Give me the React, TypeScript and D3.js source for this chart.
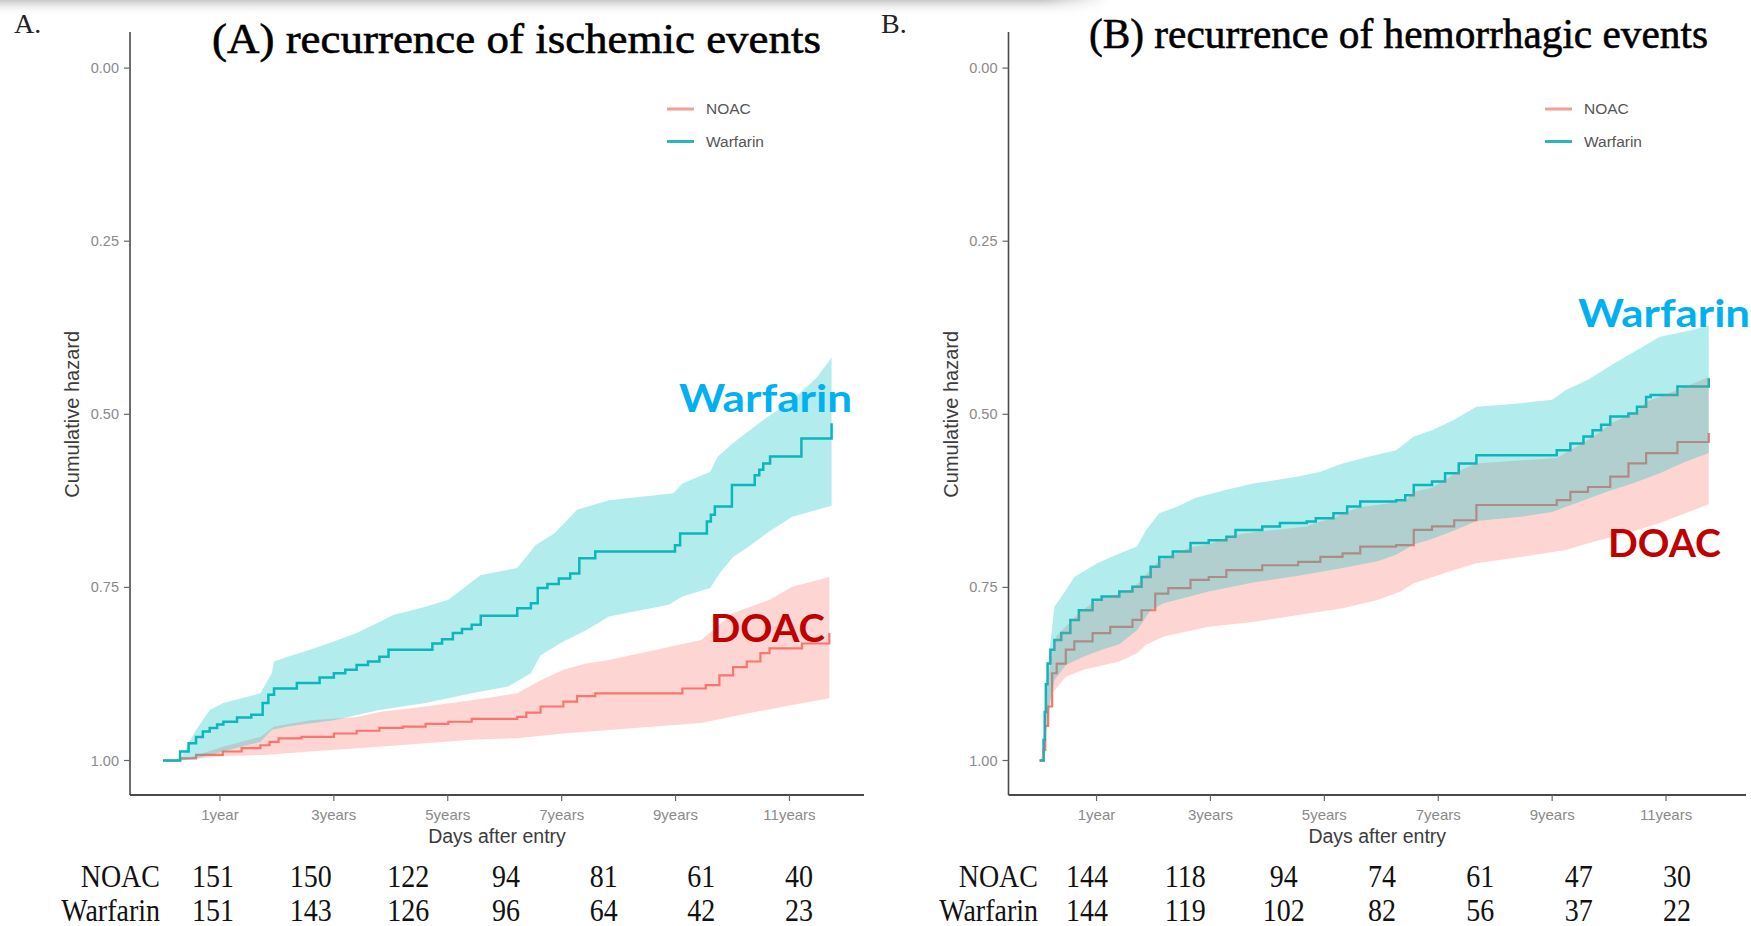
import React from "react";
import * as d3 from "d3";

type P = [number, number];

// ---------- Panel A: recurrence of ischemic events ----------
const ischWarfarinLine: P[] = [
  [0, 1.0], [0.3, 0.987], [0.45, 0.975], [0.58, 0.966], [0.7, 0.958], [0.82, 0.953], [0.95, 0.948],
  [1.06, 0.944], [1.3, 0.938], [1.55, 0.934], [1.75, 0.917], [1.85, 0.905], [1.95, 0.896], [2.35, 0.888],
  [2.75, 0.88], [3.0, 0.874], [3.2, 0.869], [3.4, 0.862], [3.6, 0.857], [3.8, 0.85], [3.96, 0.84],
  [4.73, 0.831], [4.9, 0.825], [5.09, 0.816], [5.25, 0.81], [5.42, 0.804], [5.58, 0.791], [6.22, 0.78],
  [6.46, 0.773], [6.58, 0.751], [6.75, 0.745], [6.95, 0.737], [7.15, 0.73], [7.31, 0.708], [7.59, 0.698],
  [8.99, 0.689], [9.08, 0.672], [9.55, 0.655], [9.62, 0.645], [9.69, 0.633], [9.99, 0.602], [10.39, 0.588],
  [10.47, 0.58], [10.54, 0.571], [10.66, 0.561], [11.21, 0.535], [11.74, 0.513],
];
const ischWarfarinUpper: P[] = [
  [0, 1.0], [0.3, 1.0], [0.45, 0.975], [0.58, 0.956], [0.82, 0.927], [1.06, 0.917], [1.38, 0.91],
  [1.71, 0.903], [1.91, 0.874], [1.95, 0.857], [2.19, 0.85], [2.58, 0.84], [3.0, 0.828], [3.4, 0.816],
  [3.8, 0.8], [4.04, 0.79], [4.61, 0.778], [5.01, 0.768], [5.58, 0.732], [6.22, 0.722], [6.54, 0.689],
  [6.87, 0.672], [7.27, 0.638], [7.83, 0.624], [8.96, 0.614], [9.12, 0.6], [9.61, 0.583], [9.73, 0.562],
  [10.0, 0.542], [10.48, 0.512], [11.07, 0.478], [11.48, 0.447], [11.74, 0.418],
];
const ischWarfarinLower: P[] = [
  [0, 1.0], [0.3, 1.0], [0.58, 0.997], [1.05, 0.987], [1.38, 0.98], [1.71, 0.973], [1.91, 0.956],
  [2.19, 0.951], [3.0, 0.942], [3.8, 0.927], [4.61, 0.917], [5.42, 0.903], [6.06, 0.893], [6.46, 0.874],
  [6.63, 0.848], [7.03, 0.828], [7.43, 0.812], [7.83, 0.792], [8.88, 0.775], [9.12, 0.763], [9.61, 0.751],
  [9.77, 0.73], [10.01, 0.706], [10.25, 0.693], [10.65, 0.669], [11.05, 0.648], [11.74, 0.632],
];
const ischNoacLine: P[] = [
  [0, 1.0], [0.3, 0.997], [0.58, 0.992], [1.05, 0.987], [1.38, 0.982], [1.71, 0.978], [1.87, 0.973],
  [2.03, 0.968], [2.43, 0.966], [3.0, 0.961], [3.4, 0.957], [3.8, 0.953], [4.21, 0.951], [4.61, 0.947],
  [5.01, 0.944], [5.42, 0.94], [6.22, 0.937], [6.38, 0.931], [6.63, 0.922], [7.03, 0.915], [7.27, 0.907],
  [7.59, 0.903], [9.12, 0.896], [9.53, 0.891], [9.77, 0.877], [10.01, 0.865], [10.25, 0.857],
  [10.49, 0.845], [10.65, 0.838], [11.22, 0.831], [11.7, 0.816],
];
const ischNoacUpper: P[] = [
  [0, 1.0], [0.3, 1.0], [1.05, 0.98], [1.71, 0.966], [1.95, 0.951], [2.58, 0.942], [3.4, 0.937],
  [3.8, 0.93], [4.61, 0.922], [5.42, 0.913], [6.22, 0.903], [6.63, 0.884], [7.03, 0.869], [7.43, 0.86],
  [7.83, 0.855], [8.88, 0.836], [9.45, 0.826], [10.01, 0.787], [10.65, 0.768], [11.05, 0.749], [11.7, 0.735],
];
const ischNoacLower: P[] = [
  [0, 1.0], [0.3, 1.0], [1.05, 0.994], [1.79, 0.992], [2.58, 0.987], [3.8, 0.98], [4.61, 0.975],
  [5.42, 0.97], [6.22, 0.968], [7.03, 0.961], [7.83, 0.956], [8.64, 0.951], [9.45, 0.946], [9.85, 0.939],
  [10.25, 0.932], [11.05, 0.92], [11.7, 0.91],
];

// ---------- Panel B: recurrence of hemorrhagic events ----------
const hemWarfarinLine: P[] = [
  [0, 1.0], [0.07, 0.97], [0.09, 0.93], [0.11, 0.89], [0.14, 0.86], [0.19, 0.84], [0.26, 0.826],
  [0.38, 0.816], [0.54, 0.797], [0.69, 0.783], [0.93, 0.768], [1.09, 0.763], [1.4, 0.756], [1.63, 0.749],
  [1.79, 0.735], [1.95, 0.72], [2.1, 0.706], [2.34, 0.698], [2.65, 0.686], [2.97, 0.682], [3.28, 0.677],
  [3.44, 0.667], [3.91, 0.662], [4.22, 0.657], [4.69, 0.655], [4.85, 0.65], [5.16, 0.643], [5.4, 0.633],
  [5.63, 0.626], [6.26, 0.624], [6.42, 0.617], [6.57, 0.602], [6.89, 0.597], [7.12, 0.585], [7.36, 0.571],
  [7.67, 0.559], [9.08, 0.552], [9.32, 0.542], [9.55, 0.532], [9.71, 0.523], [9.86, 0.515], [10.02, 0.503],
  [10.34, 0.499], [10.49, 0.489], [10.65, 0.475], [10.73, 0.472], [11.2, 0.46], [11.75, 0.448],
];
const hemWarfarinUpper: P[] = [
  [0, 1.0], [0.07, 1.0], [0.1, 0.93], [0.15, 0.86], [0.26, 0.778], [0.46, 0.754], [0.61, 0.735],
  [1.01, 0.715], [1.4, 0.701], [1.71, 0.691], [1.87, 0.667], [2.1, 0.643], [2.42, 0.633], [2.73, 0.621],
  [3.28, 0.609], [3.75, 0.6], [4.54, 0.59], [4.93, 0.583], [5.32, 0.571], [5.79, 0.561], [6.26, 0.552],
  [6.57, 0.532], [6.89, 0.523], [7.28, 0.508], [7.67, 0.489], [8.45, 0.484], [9.0, 0.479], [9.24, 0.465],
  [9.63, 0.45], [10.02, 0.43], [10.6, 0.402], [10.89, 0.388], [11.48, 0.378], [11.75, 0.371],
];
const hemWarfarinLower: P[] = [
  [0, 1.0], [0.07, 1.0], [0.1, 0.965], [0.15, 0.93], [0.26, 0.884], [0.46, 0.862], [0.77, 0.85],
  [1.09, 0.84], [1.4, 0.832], [1.71, 0.812], [1.95, 0.783], [2.18, 0.773], [2.97, 0.756], [3.75, 0.743],
  [4.54, 0.733], [5.32, 0.722], [5.95, 0.712], [6.26, 0.703], [6.57, 0.688], [6.89, 0.68], [7.28, 0.668],
  [7.67, 0.654], [8.45, 0.648], [9.0, 0.641], [9.63, 0.622], [10.02, 0.61], [10.41, 0.6], [10.89, 0.585],
  [11.3, 0.57], [11.75, 0.556],
];
const hemNoacLine: P[] = [
  [0, 1.0], [0.07, 0.985], [0.1, 0.95], [0.15, 0.922], [0.22, 0.874], [0.3, 0.86], [0.46, 0.84],
  [0.61, 0.828], [0.93, 0.816], [1.24, 0.807], [1.63, 0.797], [1.79, 0.783], [2.03, 0.759], [2.26, 0.751],
  [2.65, 0.739], [2.97, 0.735], [3.28, 0.725], [3.91, 0.718], [4.54, 0.713], [4.93, 0.706], [5.32, 0.701],
  [5.63, 0.691], [6.26, 0.689], [6.57, 0.667], [6.89, 0.662], [7.28, 0.653], [7.67, 0.631], [9.08, 0.624],
  [9.32, 0.612], [9.63, 0.605], [10.02, 0.59], [10.34, 0.571], [10.65, 0.556], [11.2, 0.54], [11.75, 0.527],
];
const hemNoacUpper: P[] = [
  [0, 1.0], [0.07, 0.99], [0.1, 0.95], [0.13, 0.9], [0.2, 0.85], [0.3, 0.82], [0.54, 0.8], [0.69, 0.787],
  [0.93, 0.772], [1.09, 0.766], [1.4, 0.759], [1.63, 0.752], [1.79, 0.739], [1.95, 0.724], [2.1, 0.711],
  [2.34, 0.703], [2.65, 0.692], [2.97, 0.688], [3.44, 0.674], [3.91, 0.669], [4.69, 0.662], [4.85, 0.657],
  [5.16, 0.65], [5.4, 0.641], [5.63, 0.634], [6.42, 0.626], [6.57, 0.612], [6.89, 0.606], [7.12, 0.595],
  [7.36, 0.582], [7.67, 0.571], [9.08, 0.563], [9.32, 0.552], [9.55, 0.541], [9.86, 0.525], [10.02, 0.513],
  [10.49, 0.497], [10.65, 0.482], [11.2, 0.465], [11.75, 0.446],
];
const hemNoacLower: P[] = [
  [0, 1.0], [0.07, 1.0], [0.1, 0.965], [0.15, 0.946], [0.22, 0.903], [0.46, 0.879], [0.77, 0.869],
  [1.4, 0.857], [1.71, 0.845], [1.87, 0.833], [2.18, 0.821], [2.97, 0.807], [3.75, 0.8], [4.54, 0.79],
  [5.32, 0.78], [5.95, 0.768], [6.34, 0.756], [6.57, 0.744], [7.28, 0.725], [7.67, 0.715], [8.45, 0.706],
  [9.24, 0.696], [9.72, 0.684], [10.31, 0.672], [10.89, 0.657], [11.75, 0.63],
];

// ---------- Axis ticks & risk tables ----------
const yTicks = [0, 0.25, 0.5, 0.75, 1];
const xTickYears = [1, 3, 5, 7, 9, 11];
const xTickLabels = ["1year", "3years", "5years", "7years", "9years", "11years"];
const groupNames = ["NOAC", "Warfarin"];
const ischRiskNoac = [151, 150, 122, 94, 81, 61, 40];
const ischRiskWarfarin = [151, 143, 126, 96, 64, 42, 23];
const hemRiskNoac = [144, 118, 94, 74, 61, 47, 30];
const hemRiskWarfarin = [144, 119, 102, 82, 56, 37, 22];

const TEAL = "#00bfc4";
const RED = "#f8766d";
const SANS = "'Liberation Sans', Arial, sans-serif";
const SERIF = "'Liberation Serif', 'Times New Roman', serif";
const CALLOUT = "Lato, 'Open Sans', sans-serif";

type PanelProps = {
  letter: string;
  letterX: number;
  title: string;
  titleX: number;
  titleY: number;
  titleW: number;
  axisX: number;
  axisEnd: number;
  x0: number;
  warLine: P[];
  warUp: P[];
  warLo: P[];
  noacLine: P[];
  noacUp: P[];
  noacLo: P[];
  riskNoac: number[];
  riskWar: number[];
  riskLabelX: number;
  riskRange: [number, number];
  legendX: number;
  warText: { x: number; y: number; w: number };
  doacText: { x: number; y: number; w: number };
};

function Panel(p: PanelProps) {
  const yearPx = 56.95;
  const x = d3.scaleLinear().domain([0, 12]).range([p.x0, p.x0 + 12 * yearPx]);
  const y = d3.scaleLinear().domain([0, 1]).range([68.1, 760.5]);
  const stepLine = d3
    .line<P>()
    .x((d) => x(d[0]))
    .y((d) => y(d[1]))
    .curve(d3.curveStepAfter);
  const edge = d3
    .line<P>()
    .x((d) => x(d[0]))
    .y((d) => y(d[1]))
    .curve(d3.curveLinear);
  const ribbon = (up: P[], lo: P[]) => edge([...up, ...lo.slice().reverse()]) + "Z";
  const axisTop = 32;
  const axisY = 795;
  const riskX = d3
    .scalePoint<number>()
    .domain(d3.range(p.riskNoac.length))
    .range(p.riskRange);
  const fmt = d3.format(".2f");

  return (
    <g>
      <text x={p.letterX} y={33} fontFamily={SERIF} fontSize={28} fill="#222">
        {p.letter}
      </text>
      <text
        x={p.titleX}
        y={p.titleY}
        fontFamily={SERIF}
        fontWeight={400}
        fontSize={43}
        fill="#000"
        stroke="#000"
        strokeWidth={0.6}
        textLength={p.titleW}
        lengthAdjust="spacingAndGlyphs"
      >
        {p.title}
      </text>

      {/* curves: lines beneath ribbons */}
      <path d={stepLine(p.noacLine) || ""} fill="none" stroke={RED} strokeWidth={2.2} />
      <path d={stepLine(p.warLine) || ""} fill="none" stroke="#0fb3b8" strokeWidth={2.5} />
      <path d={ribbon(p.noacUp, p.noacLo)} fill={RED} fillOpacity={0.3} />
      <path d={ribbon(p.warUp, p.warLo)} fill={TEAL} fillOpacity={0.3} />

      {/* axes */}
      <line x1={p.axisX} x2={p.axisX} y1={axisTop} y2={axisY} stroke="#4a4a4a" strokeWidth={1.6} />
      <line x1={p.axisX} x2={p.axisEnd} y1={axisY} y2={axisY} stroke="#4a4a4a" strokeWidth={1.8} />
      {yTicks.map((t) => (
        <g key={t}>
          <line x1={p.axisX - 6} x2={p.axisX} y1={y(t)} y2={y(t)} stroke="#666" strokeWidth={1.2} />
          <text
            x={p.axisX - 11}
            y={y(t)}
            dy="0.35em"
            textAnchor="end"
            fontFamily={SANS}
            fontSize={14.5}
            fill="#8a8a8a"
          >
            {fmt(t)}
          </text>
        </g>
      ))}
      {xTickYears.map((t, i) => (
        <g key={t}>
          <line x1={x(t)} x2={x(t)} y1={axisY} y2={axisY + 6} stroke="#666" strokeWidth={1.2} />
          <text
            x={x(t)}
            y={820}
            textAnchor="middle"
            fontFamily={SANS}
            fontSize={15}
            fill="#8a8a8a"
          >
            {xTickLabels[i]}
          </text>
        </g>
      ))}
      <text
        x={(p.axisX + p.axisEnd) / 2}
        y={843}
        textAnchor="middle"
        fontFamily={SANS}
        fontSize={19.5}
        fill="#3c3c3c"
      >
        Days after entry
      </text>
      <text
        transform={`translate(${p.axisX - 51},${y(0.5)}) rotate(-90)`}
        textAnchor="middle"
        fontFamily={SANS}
        fontSize={20}
        fill="#3c3c3c"
      >
        Cumulative hazard
      </text>

      {/* legend */}
      {groupNames.map((g, i) => (
        <g key={g}>
          <line
            x1={p.legendX}
            x2={p.legendX + 27}
            y1={109 + i * 32.5}
            y2={109 + i * 32.5}
            stroke={i === 0 ? "#f59c96" : "#2fb4b8"}
            strokeWidth={3}
          />
          <text
            x={p.legendX + 39}
            y={109 + i * 32.5}
            dy="0.35em"
            fontFamily={SANS}
            fontSize={15.5}
            fill="#555"
          >
            {g}
          </text>
        </g>
      ))}

      {/* callouts */}
      <text
        x={p.warText.x}
        y={p.warText.y}
        fontFamily={CALLOUT}
        fontWeight={700}
        fontSize={38}
        fill="#00b0f0"
        textLength={p.warText.w}
        lengthAdjust="spacingAndGlyphs"
      >
        Warfarin
      </text>
      <text
        x={p.doacText.x}
        y={p.doacText.y}
        fontFamily={CALLOUT}
        fontWeight={700}
        fontSize={38}
        fill="#c00000"
        textLength={p.doacText.w}
        lengthAdjust="spacingAndGlyphs"
      >
        DOAC
      </text>

      {/* risk table */}
      {[p.riskNoac, p.riskWar].map((row, r) => {
        const baseY = r === 0 ? 887 : 921;
        return (
          <g key={r} transform={`translate(0,${baseY}) scale(1,1.12)`}>
            <text x={p.riskLabelX} y={0} textAnchor="end" fontFamily={SERIF} fontSize={28} fill="#111">
              {groupNames[r]}
            </text>
            {row.map((v, i) => (
              <text
                key={i}
                x={riskX(i)}
                y={0}
                textAnchor="middle"
                fontFamily={SERIF}
                fontSize={28}
                fill="#111"
              >
                {v}
              </text>
            ))}
          </g>
        );
      })}
    </g>
  );
}

export default function App() {
  return (
    <svg
      width={1751}
      height={926}
      style={{ position: "absolute", left: 0, top: 0, background: "#fff" }}
    >
      <defs>
        <linearGradient id="topShade" x1="0" y1="0" x2="0" y2="1">
          <stop offset="0" stopColor="#c8c8c8" stopOpacity={1} />
          <stop offset="1" stopColor="#ffffff" stopOpacity={0} />
        </linearGradient>
        <linearGradient id="sideFade" x1="0" y1="0" x2="1" y2="0">
          <stop offset="0.94" stopColor="#fff" />
          <stop offset="1" stopColor="#000" />
        </linearGradient>
        <mask id="shadeMask">
          <rect x={0} y={0} width={1110} height={16} fill="url(#sideFade)" />
        </mask>
      </defs>
      <rect x={0} y={0} width={1751} height={926} fill="#fff" />
      <rect x={0} y={0} width={1110} height={16} fill="url(#topShade)" mask="url(#shadeMask)" />

      <Panel
        letter="A."
        letterX={14}
        title="(A) recurrence of ischemic events"
        titleX={212}
        titleY={53}
        titleW={609}
        axisX={130}
        axisEnd={864}
        x0={163}
        warLine={ischWarfarinLine}
        warUp={ischWarfarinUpper}
        warLo={ischWarfarinLower}
        noacLine={ischNoacLine}
        noacUp={ischNoacUpper}
        noacLo={ischNoacLower}
        riskNoac={ischRiskNoac}
        riskWar={ischRiskWarfarin}
        riskLabelX={160}
        riskRange={[213, 799]}
        legendX={667}
        warText={{ x: 679, y: 412, w: 173 }}
        doacText={{ x: 710, y: 642, w: 115 }}
      />
      <Panel
        letter="B."
        letterX={881}
        title="(B) recurrence of hemorrhagic events"
        titleX={1089}
        titleY={48}
        titleW={619}
        axisX={1008.5}
        axisEnd={1746}
        x0={1039.6}
        warLine={hemWarfarinLine}
        warUp={hemWarfarinUpper}
        warLo={hemWarfarinLower}
        noacLine={hemNoacLine}
        noacUp={hemNoacUpper}
        noacLo={hemNoacLower}
        riskNoac={hemRiskNoac}
        riskWar={hemRiskWarfarin}
        riskLabelX={1038}
        riskRange={[1087, 1677]}
        legendX={1545}
        warText={{ x: 1578, y: 327, w: 172 }}
        doacText={{ x: 1608, y: 557, w: 113 }}
      />
    </svg>
  );
}
